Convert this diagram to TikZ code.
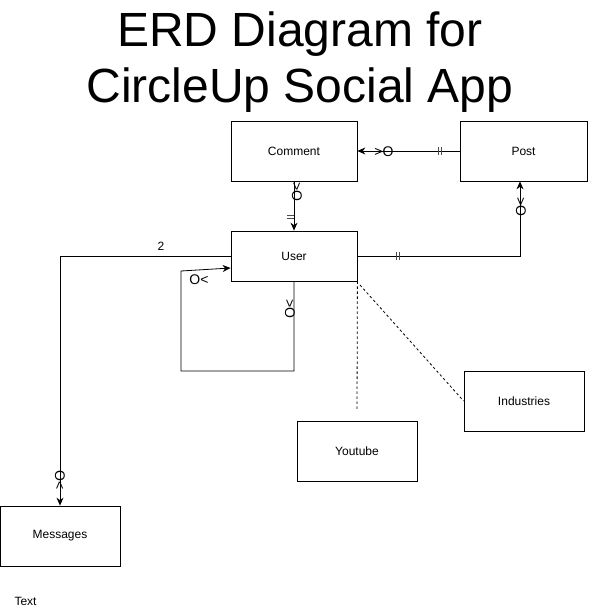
\documentclass[tikz,border=0pt]{standalone}
\usepackage{fontspec}
\setmainfont{Liberation Sans}
\usetikzlibrary{arrows.meta}
\begin{document}
\begin{tikzpicture}[x=1pt,y=-1pt,
  entity/.style={draw,line width=0.8pt,minimum width=126pt,minimum height=60pt,inner sep=0pt,font=\fontsize{12}{14}\selectfont},
  rel/.style={line width=0.8pt,-{Stealth[length=8pt,width=7pt]}},
  lnk/.style={line width=0.8pt},
  dsh/.style={line width=0.8pt,dash pattern=on 2.5pt off 2.5pt},
  mk/.style={inner sep=0pt,font=\fontsize{14}{14}\selectfont},
  bar/.style={line width=0.6pt,draw=black!70}]
\useasboundingbox (0,0) rectangle (588,612);
% title
\node[anchor=base,font=\fontsize{48}{56}\selectfont] (t1) at (300,47) {ERD Diagram for};
\node[anchor=base,font=\fontsize{48}{56}\selectfont] (t2) at (300,103) {CircleUp Social App};
% entities
\node[entity] (comment) at (294,151) {Comment};
\node[entity,minimum width=127pt] (post) at (523.5,151) {Post};
\node[entity,minimum height=50pt] (user) at (294,256) {User};
\node[entity,minimum width=120pt] (ind) at (524,401) {Industries};
\node[entity,minimum width=120pt] (yt) at (357,451) {Youtube};
\node[entity,minimum width=120pt] (msg) at (60,536) {Messages};
\node[anchor=base west,font=\fontsize{12}{14}\selectfont] (txt) at (11,605) {Text};
% coordinates
\coordinate (c1) at (520,256);
\coordinate (c2) at (60,256);
\coordinate (l1) at (294,371);
\coordinate (l2) at (181,371);
\coordinate (l3) at (181,271);
\coordinate (d1) at (357,411);
\coordinate (d2) at (360,285);
% connectors
\draw[rel] (post.west) -- (comment.east);
\draw[rel] (comment.south) -- (user.north);
\draw[rel] (user.east) -- (c1) -- (c1 |- post.south);
\draw[rel] (user.west) -- (c2) -- (msg.north);
\draw[rel] (user.south) -- (l1) -- (l2) -- (l3) -- (user.west |- 0,268);
\draw[dsh] (user.south east) -- (d1);
\draw[dsh] (d2) -- (ind.west);
% labels
\node[font=\fontsize{12}{14}\selectfont] (two) at (161,246) {2};
% markers
\node[mk] (m1) at (384,152) {>O};
\draw[bar] (438.5,147) -- (438.5,155) (441.5,147) -- (441.5,155);
\node[mk,rotate=-90] (m2) at (297,192) {>O};
\draw[bar] (287,215.5) -- (294,215.5) (287,218.5) -- (294,218.5);
\node[mk,rotate=-90] (m3) at (521,207) {>O};
\draw[bar] (396.5,252) -- (396.5,260) (399.5,252) -- (399.5,260);
\node[mk] (m4) at (199,280) {O<};
\node[mk,rotate=-90] (m5) at (290,309) {>O};
\node[mk,rotate=-90] (m6) at (60,480) {O<};
\end{tikzpicture}
\end{document}
